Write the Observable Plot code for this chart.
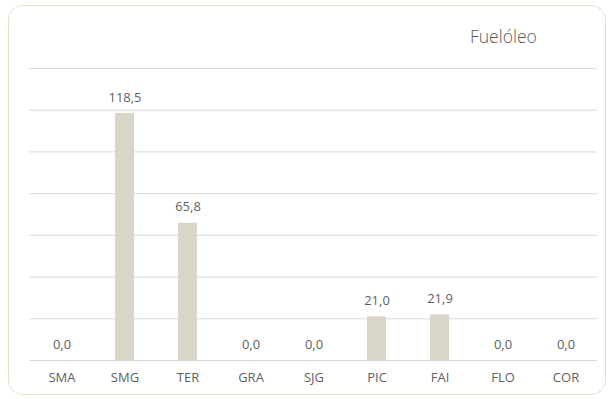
<!DOCTYPE html>
<html>
<head>
<meta charset="utf-8">
<script src="https://cdn.jsdelivr.net/npm/d3@7"></script>
<script src="https://cdn.jsdelivr.net/npm/@observablehq/plot@0.6"></script>
<style>
  html, body { margin: 0; padding: 0; background: #fff; }
  #wrap { position: relative; width: 615px; height: 399px; overflow: hidden; font-family: "Open Sans", sans-serif; }
  #frame { position: absolute; left: 8px; top: 5px; width: 598px; height: 390px; border: 1px solid #e6e0cb; border-radius: 15px; box-sizing: border-box; }
  #title { position: absolute; left: 470px; top: 24px; font-size: 17.5px; font-weight: 300; color: #595959; white-space: nowrap; }
  #chart { position: absolute; left: 0; top: 0; }
</style>
</head>
<body>
<div id="wrap">
  <div id="frame"></div>
  <div id="title">Fuelóleo</div>
  <div id="chart"></div>
</div>
<script>
const categories = ["SMA", "SMG", "TER", "GRA", "SJG", "PIC", "FAI", "FLO", "COR"];
const values = [0.0, 118.5, 65.8, 0.0, 0.0, 21.0, 21.9, 0.0, 0.0];
const gridTicks = [0, 20, 40, 60, 80, 100, 120, 140];

const data = categories.map((c, i) => ({cat: c, v: values[i]}));
const fmt = v => v.toFixed(1).replace(".", ",");

const plot = Plot.plot({
  width: 615,
  height: 399,
  marginLeft: 29,
  marginRight: 18,
  marginTop: 68,
  marginBottom: 39,
  style: {fontFamily: "Open Sans, sans-serif", fontSize: "13px", color: "#5f5f5f", background: "transparent"},
  x: {domain: categories, paddingInner: 0.7, paddingOuter: 0.35, label: null},
  y: {domain: [0, 140], axis: null},
  marks: [
    Plot.ruleY(gridTicks, {stroke: "#d9d9d9", strokeWidth: 1}),
    Plot.barY(data, {x: "cat", y: "v", fill: "#d9d6c7"}),
    Plot.text(data, {x: "cat", y: "v", text: d => fmt(d.v), dy: -16, fill: "#5f5f5f", fontSize: 13}),
    Plot.axisX({tickSize: 0, tickPadding: 12, fontSize: 13, fill: "#5f5f5f", label: null})
  ]
});
document.getElementById("chart").appendChild(plot);
</script>
</body>
</html>
